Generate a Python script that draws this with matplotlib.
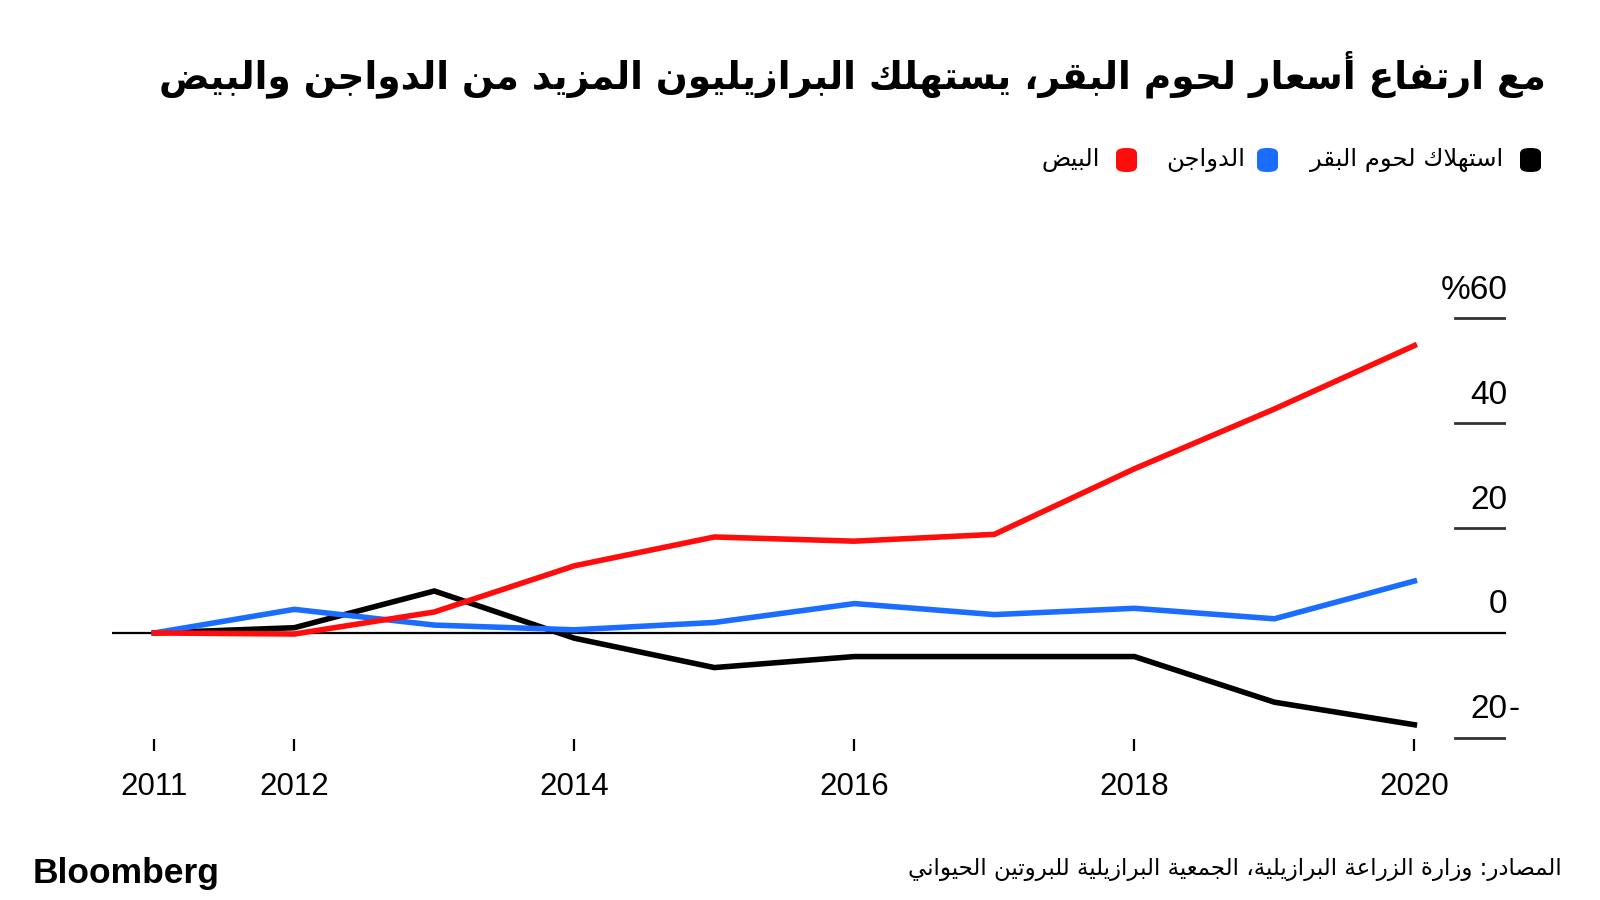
import matplotlib.pyplot as plt
from matplotlib.patches import FancyBboxPatch

# data (% change since 2011)
years = [2011, 2012, 2013, 2014, 2015, 2016, 2017, 2018, 2019, 2020]
beef = [0, 1, 8, -1, -6.6, -4.5, -4.5, -4.5, -13.2, -17.5]
poultry = [0, 4.5, 1.5, 0.6, 2, 5.6, 3.5, 4.7, 2.7, 9.9]
eggs = [0, -0.2, 4, 12.8, 18.3, 17.5, 18.8, 31.3, 42.7, 54.8]
x_ticks = [2011, 2012, 2014, 2016, 2018, 2020]
y_ticks = [60, 40, 20, 0, -20]
y_labels = ['%60', '40', '20', '0', '20']

title = 'مع ارتفاع أسعار لحوم البقر، يستهلك البرازيليون المزيد من الدواجن والبيض'
series_names = ['استهلاك لحوم البقر', 'الدواجن', 'البيض']
series_colors = ['#000000', '#1a6dff', '#ff0d0d']
source = 'المصادر: وزارة الزراعة البرازيلية، الجمعية البرازيلية للبروتين الحيواني'

# --- tiny arabic shaper: matplotlib has no shaping / bidi ---
letters = [('ء', 0xFE80, 1), ('آ', 0xFE81, 2), ('أ', 0xFE83, 2), ('ؤ', 0xFE85, 2),
           ('إ', 0xFE87, 2), ('ئ', 0xFE89, 4), ('ا', 0xFE8D, 2), ('ب', 0xFE8F, 4),
           ('ة', 0xFE93, 2), ('ت', 0xFE95, 4), ('ث', 0xFE99, 4), ('ج', 0xFE9D, 4),
           ('ح', 0xFEA1, 4), ('خ', 0xFEA5, 4), ('د', 0xFEA9, 2), ('ذ', 0xFEAB, 2),
           ('ر', 0xFEAD, 2), ('ز', 0xFEAF, 2), ('س', 0xFEB1, 4), ('ش', 0xFEB5, 4),
           ('ص', 0xFEB9, 4), ('ض', 0xFEBD, 4), ('ط', 0xFEC1, 4), ('ظ', 0xFEC5, 4),
           ('ع', 0xFEC9, 4), ('غ', 0xFECD, 4), ('ف', 0xFED1, 4), ('ق', 0xFED5, 4),
           ('ك', 0xFED9, 4), ('ل', 0xFEDD, 4), ('م', 0xFEE1, 4), ('ن', 0xFEE5, 4),
           ('ه', 0xFEE9, 4), ('و', 0xFEED, 2), ('ى', 0xFEEF, 2), ('ي', 0xFEF1, 4)]
ARABIC = {c: (b, n) for c, b, n in letters}
LAM_ALEF = {'ا': 0xFEFB, 'أ': 0xFEF7, 'إ': 0xFEF9, 'آ': 0xFEF5}


def shape(s):
    units = []
    i = 0
    while i < len(s):
        c = s[i]
        if c == 'ل' and i + 1 < len(s) and s[i + 1] in LAM_ALEF:
            units.append((c, LAM_ALEF[s[i + 1]]))
            i += 2
        else:
            units.append((c, None))
            i += 1

    def joins_right(u):
        return u[1] is not None or (u[0] in ARABIC and ARABIC[u[0]][1] > 1)

    out = []
    for k, (c, lig) in enumerate(units):
        prev = units[k - 1] if k > 0 else None
        nxt = units[k + 1] if k + 1 < len(units) else None
        jp = (prev is not None and prev[1] is None and prev[0] in ARABIC
              and ARABIC[prev[0]][1] == 4 and joins_right((c, lig)))
        if lig is not None:
            out.append(chr(lig + (1 if jp else 0)))
            continue
        if c not in ARABIC:
            out.append(c)
            continue
        base, n = ARABIC[c]
        jn = n == 4 and nxt is not None and joins_right(nxt)
        f = 3 if (jp and jn) else 1 if jp else 2 if jn else 0
        out.append(chr(base + f))
    return ''.join(out)[::-1]


AR = 'DejaVu Sans'
LAT = ['Liberation Sans', 'DejaVu Sans']

fig = plt.figure(figsize=(16, 9), dpi=100)
ax = fig.add_axes([0.0702, 0.1656, 0.8711, 0.5099])

lines = [beef, poultry, eggs]
for vals, col in zip(lines, series_colors):
    ax.plot(years, vals, color=col, lw=4, solid_joinstyle='miter', clip_on=False, zorder=3)

ax.set_xlim(2010.70, 2020.655)
ax.set_ylim(-22.5, 65)
for s in ax.spines.values():
    s.set_visible(False)

ax.axhline(0, color='black', lw=1.6, zorder=2)
for yv, lab in zip(y_ticks, y_labels):
    if yv != 0:
        ax.axhline(yv, xmin=0.963, xmax=1.0, color='#333333', lw=2)
    ax.annotate(lab, xy=(1, yv), xycoords=('axes fraction', 'data'), xytext=(1, 9),
                textcoords='offset points', ha='right', va='bottom',
                fontsize=24, family=LAT)
    if yv < 0:
        ax.annotate('-', xy=(1, yv), xycoords=('axes fraction', 'data'), xytext=(2, 9),
                    textcoords='offset points', ha='left', va='bottom',
                    fontsize=24, family=LAT)

ax.set_yticks([])
ax.set_xticks(x_ticks)
ax.set_xticklabels([str(t) for t in x_ticks], fontsize=22.5, family=LAT)
ax.tick_params(axis='x', direction='in', length=9, width=1.6, pad=15, color='black')

# title
fig.text(0.966, 0.918, shape(title), ha='right', va='center', fontsize=27,
         fontweight='bold', family=AR)

# legend (right to left)
leg_label_x = [1503, 1245, 1100]
leg_marker_x = [1520, 1257, 1116]
ly = 160
for name, col, tx, mx in zip(series_names, series_colors, leg_label_x, leg_marker_x):
    fig.text(tx / 1600, 1 - ly / 900, shape(name), ha='right', va='center',
             fontsize=17.5, family=AR)
    box = FancyBboxPatch((mx / 1600, 1 - (ly + 12) / 900), 21 / 1600, 24 / 900,
                         boxstyle='round,pad=0,rounding_size=0.006',
                         transform=fig.transFigure, facecolor=col, edgecolor='none')
    fig.patches.append(box)

# footer
fig.text(0.0204, 0.03, 'Bloomberg', ha='left', va='center', fontsize=25.5,
         fontweight='bold', family=LAT)
fig.text(0.976, 0.034, shape(source), ha='right', va='center', fontsize=16.5, family=AR)

plt.savefig('out.png', dpi=100)
